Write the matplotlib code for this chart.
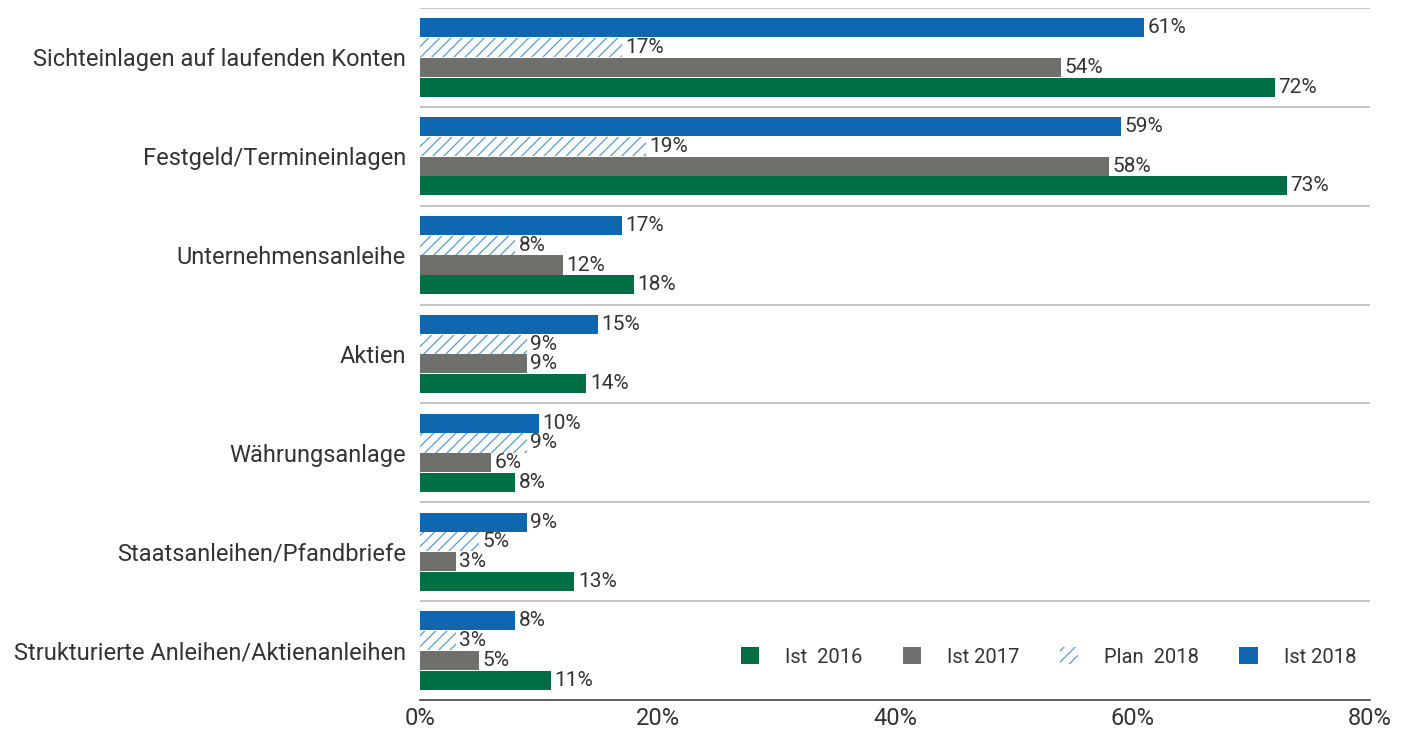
import numpy as np
import matplotlib
matplotlib.use("Agg")
import matplotlib.pyplot as plt
from matplotlib.patches import Patch

kategorien = [
    "Sichteinlagen auf laufenden Konten",
    "Festgeld/Termineinlagen",
    "Unternehmensanleihe",
    "Aktien",
    "Währungsanlage",
    "Staatsanleihen/Pfandbriefe",
    "Strukturierte Anleihen/Aktienanleihen",
]
ist_2018 = [61, 59, 17, 15, 10, 9, 8]
plan_2018 = [17, 19, 8, 9, 9, 5, 3]
ist_2017 = [54, 58, 12, 9, 6, 3, 5]
ist_2016 = [72, 73, 18, 14, 8, 13, 11]

x_ticks = [0, 20, 40, 60, 80]

blau = "#0F67AF"
hellblau = "#5B9BD5"
grau = "#6F706B"
gruen = "#006F44"
text_farbe = "#333333"

plt.rcParams["font.family"] = ["Roboto", "DejaVu Sans"]
plt.rcParams["hatch.linewidth"] = 0.9

fig = plt.figure(figsize=(14.08, 7.30), dpi=100)
ax = fig.add_axes([420 / 1408, 1 - 700 / 730, 950 / 1408, 692 / 730])

y = np.arange(len(kategorien))
h = 0.193

ax.barh(y - 0.3, ist_2018, height=h, color=blau, zorder=2)
ax.barh(y - 0.1, plan_2018, height=h, facecolor="white", edgecolor=hellblau,
        linewidth=0, hatch="///", zorder=2)
ax.barh(y + 0.1, ist_2017, height=h, color=grau, zorder=2)
ax.barh(y + 0.3, ist_2016, height=h, color=gruen, zorder=2)

for off, werte in [(-0.3, ist_2018), (-0.1, plan_2018), (0.1, ist_2017), (0.3, ist_2016)]:
    for yi, v in zip(y, werte):
        ax.text(v + 0.3, yi + off, f"{v}%", va="center", ha="left",
                fontsize=15, color=text_farbe)

# Trennlinien zwischen den Gruppen
for g in np.arange(-0.5, len(kategorien) - 0.5, 1.0):
    ax.axhline(g, color="#BBBBBB", linewidth=1.2, zorder=1)

ax.set_xlim(0, 80)
ax.set_ylim(len(kategorien) - 0.5, -0.5)
ax.set_yticks(y)
ax.set_yticklabels(kategorien, fontsize=17, color=text_farbe)
ax.set_xticks(x_ticks)
ax.set_xticklabels([f"{t}%" for t in x_ticks], fontsize=17, color=text_farbe)
ax.tick_params(axis="both", length=0)
ax.tick_params(axis="y", pad=10)
ax.tick_params(axis="x", pad=5)

for s in ["top", "right", "left"]:
    ax.spines[s].set_visible(False)
ax.spines["bottom"].set_color("#444444")
ax.spines["bottom"].set_linewidth(1.2)

handles = [
    Patch(facecolor=gruen, label="Ist  2016"),
    Patch(facecolor=grau, label="Ist 2017"),
    Patch(facecolor="white", edgecolor=hellblau, linewidth=0, hatch="///", label="Plan  2018"),
    Patch(facecolor=blau, label="Ist 2018"),
]
leg = ax.legend(handles=handles, ncol=4, frameon=False, loc="center left",
                bbox_to_anchor=((741 - 420) / 950, (700 - 657) / 692),
                handlelength=0.9, handleheight=0.9, handletextpad=1.3,
                columnspacing=2.0, fontsize=14.5, borderaxespad=0, borderpad=0)
for t in leg.get_texts():
    t.set_color(text_farbe)

fig.savefig("out.png", dpi=100)
